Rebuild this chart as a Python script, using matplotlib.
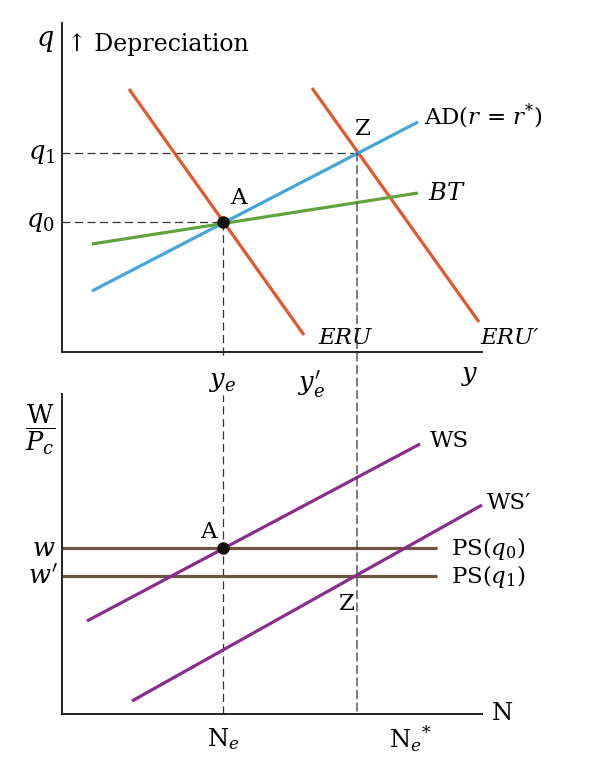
import matplotlib
matplotlib.use("Agg")
import matplotlib.pyplot as plt
from matplotlib.patches import ConnectionPatch

plt.rcParams['font.family'] = ['DejaVu Serif', 'DejaVu Sans']
plt.rcParams['mathtext.fontset'] = 'dejavuserif'

# --- top panel: exchange rate q vs output y ---
eru_x = [67, 242]
eru_y = [263, 17]
eru2_x = [250, 417]
eru2_y = [264, 30]
ad_x = [30, 356]
ad_y = [61, 230]
bt_x = [30, 356]
bt_y = [108, 159]
y_e, y_e2 = 161, 250
q0, q1 = 130, 199
z_top = (295, 199)

# --- bottom panel: real wage vs employment N ---
ws_x = [25, 358]
ws_y = [93, 270]
ws2_x = [70, 420]
ws2_y = [13, 209]
ps_x = [0, 375]
ps0, ps1 = 166, 138
n_e, n_e2 = 161, 295

ORANGE = '#E0582B'
BLUE = '#42A5DD'
GREEN = '#62A33D'
PURPLE = '#8C2B8E'
BROWN = '#6D5540'
DASH = dict(color='#333333', lw=0.9, linestyle=(0, (6.5, 3.5)))
FS = 16.5
FM = 18.5

W, H = 598, 758
fig = plt.figure(figsize=(W / 100, H / 100), dpi=100)
ax1 = fig.add_axes([62 / W, (H - 352) / H, 420 / W, 329 / H])
ax2 = fig.add_axes([62 / W, (H - 714) / H, 420 / W, 320 / H])

for ax, top in ((ax1, 329), (ax2, 320)):
    ax.set_xlim(0, 420)
    ax.set_ylim(0, top)
    for s in ('top', 'right'):
        ax.spines[s].set_visible(False)
    for s in ('left', 'bottom'):
        ax.spines[s].set_linewidth(1.4)
        ax.spines[s].set_color('#222222')
    ax.set_xticks([])
    ax.set_yticks([])
    ax.patch.set_alpha(0)

# top panel lines
ax1.plot([0, z_top[0]], [q1, q1], **DASH)
ax1.plot([0, y_e], [q0, q0], **DASH)
ax1.plot([y_e, y_e], [q0, -6], clip_on=False, **DASH)
ax1.plot(eru_x, eru_y, color=ORANGE, lw=2.3, solid_capstyle='butt')
ax1.plot(eru2_x, eru2_y, color=ORANGE, lw=2.3, solid_capstyle='butt')
ax1.plot(ad_x, ad_y, color=BLUE, lw=2.3, solid_capstyle='butt')
ax1.plot(bt_x, bt_y, color=GREEN, lw=2.3, solid_capstyle='butt')
ax1.plot([y_e], [q0], 'o', color='#111111', ms=8, zorder=5)

con = ConnectionPatch(xyA=z_top, coordsA=ax1.transData,
                      xyB=(n_e2, 0), coordsB=ax2.transData, **DASH)
fig.add_artist(con)

ax1.text(-17, 311, r'$q$', fontsize=FM + 1, ha='center', va='center')
ax1.text(5, 307, '↑ Depreciation', fontsize=FS + 0.5, ha='left', va='center')
ax1.text(-7, q1, r'$q_1$', fontsize=FM, ha='right', va='center')
ax1.text(-7, q0, r'$q_0$', fontsize=FM, ha='right', va='center')
ax1.text(176, 154, 'A', fontsize=FS, ha='center', va='center')
ax1.text(301, 223, 'Z', fontsize=FS, ha='center', va='center')
ax1.text(362, 236, r'AD($r$ = $r^{*}$)', fontsize=FS, ha='left', va='center',
         clip_on=False)
ax1.text(366, 159, r'$BT$', fontsize=FS + 1, ha='left', va='center')
ax1.text(256, 14, 'ERU', fontsize=FS, style='italic', ha='left', va='center')
ax1.text(418, 14, 'ERU′', fontsize=FS, style='italic', ha='left', va='center',
         clip_on=False)
ax1.text(y_e, -29, r'$y_e$', fontsize=FM, ha='center', va='center')
ax1.text(y_e2, -32, r"$y_e'$", fontsize=FM, ha='center', va='center')
ax1.text(408, -24, r'$y$', fontsize=FM, ha='center', va='center')

# bottom panel lines
ax2.plot([y_e, y_e], [0, 319], clip_on=False, **DASH)
ax2.plot(ps_x, [ps0, ps0], color=BROWN, lw=2.3, solid_capstyle='butt')
ax2.plot(ps_x, [ps1, ps1], color=BROWN, lw=2.3, solid_capstyle='butt')
ax2.plot(ws_x, ws_y, color=PURPLE, lw=2.3, solid_capstyle='butt')
ax2.plot(ws2_x, ws2_y, color=PURPLE, lw=2.3, solid_capstyle='butt',
         clip_on=False)
ax2.plot([n_e], [ps0], 'o', color='#111111', ms=8, zorder=5)

ax2.text(-22, 284, r'$\dfrac{\mathrm{W}}{P_c}$', fontsize=FM,
         ha='center', va='center')
ax2.text(-6, ps0, r'$w$', fontsize=FM, ha='right', va='center')
ax2.text(-4, ps1, r"$w'$", fontsize=FM, ha='right', va='center')
ax2.text(146, 182, 'A', fontsize=FS, ha='center', va='center')
ax2.text(285, 110, 'Z', fontsize=FS, ha='center', va='center')
ax2.text(368, 273, 'WS', fontsize=FS, ha='left', va='center')
ax2.text(425, 211, 'WS′', fontsize=FS, ha='left', va='center', clip_on=False)
ax2.text(389, 166, r'PS($q_0$)', fontsize=FS, ha='left', va='center')
ax2.text(389, 138, r'PS($q_1$)', fontsize=FS, ha='left', va='center')
ax2.text(430, 1, 'N', fontsize=FS + 1, ha='left', va='center', clip_on=False)
ax2.text(n_e, -25, r'$\mathrm{N}_e$', fontsize=FS + 1, ha='center', va='center')
ax2.text(348, -25, r'$\mathrm{N}_e{}^{*}$', fontsize=FS + 1, ha='center',
         va='center')

fig.savefig('out.png', dpi=100)
